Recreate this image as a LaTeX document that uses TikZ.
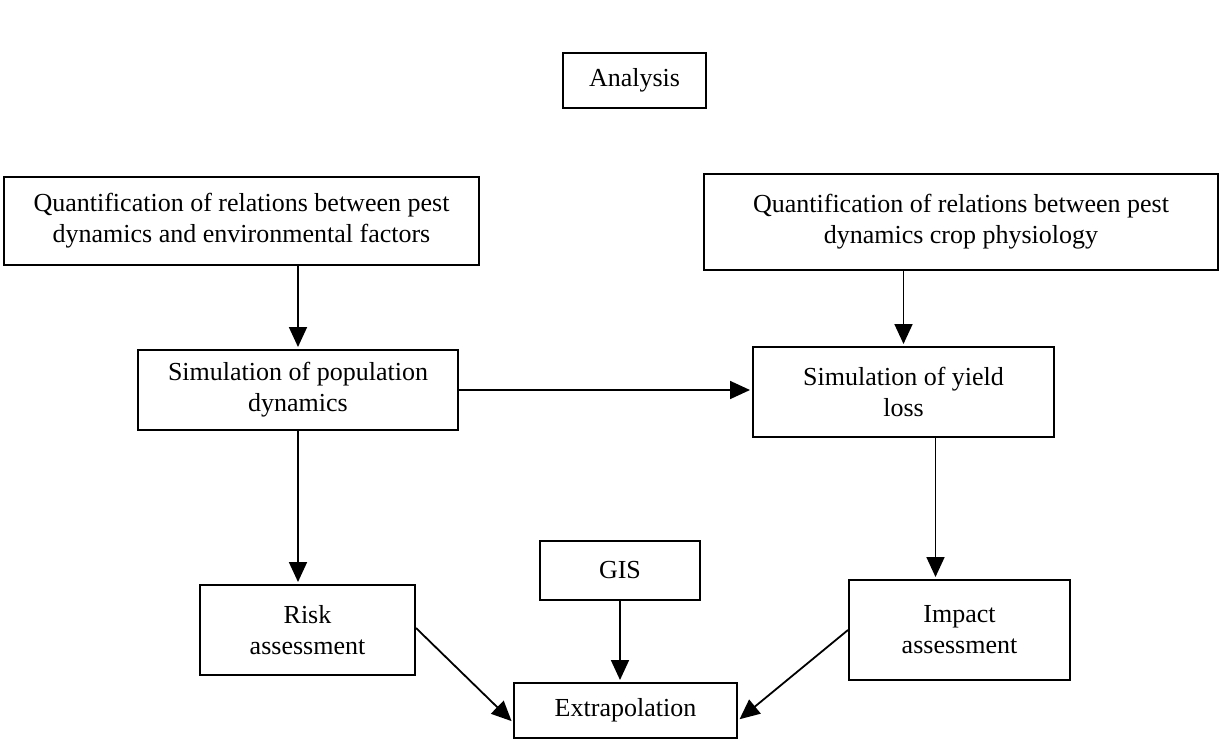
\documentclass[tikz,border=0pt]{standalone}
\usepackage{fontspec}
\setmainfont{Liberation Serif}
\usepackage{tikz}
\usetikzlibrary{arrows.meta, positioning}

\begin{document}
\begin{tikzpicture}[x=0.5pt, y=-0.5pt, shorten >=1pt,
        box/.style={draw, line width=1pt, align=center, inner sep=0pt,
            font=\fontsize{13}{15.5}\selectfont},
        flow/.style={-{Triangle[length=10pt, width=9pt]}, line width=0.9pt}]
        \useasboundingbox (0,0) rectangle (1227,740);

        \node[box, minimum width=143pt/2, minimum height=55pt/2] (analysis) at (634.5,80.5) {Analysis};
        \node[box, minimum width=475pt/2, minimum height=88pt/2] (quantl) at (241.5,221)
            {Quantification of relations between pest\\dynamics and environmental factors};
        \node[box, minimum width=514pt/2, minimum height=96pt/2] (quantr) at (961,222)
            {Quantification of relations between pest\\dynamics crop physiology};
        \node[box, minimum width=320pt/2, minimum height=80pt/2] (simpop) at (298,390)
            {Simulation of population\\dynamics};
        \node[box, minimum width=301pt/2, minimum height=90pt/2] (simyield) at (903.5,392)
            {Simulation of yield\\loss};
        \node[box, minimum width=160pt/2, minimum height=59pt/2] (gis) at (620,570.5) {GIS};
        \node[box, minimum width=215pt/2, minimum height=90pt/2] (risk) at (307.5,630)
            {Risk\\assessment};
        \node[box, minimum width=221pt/2, minimum height=100pt/2] (impact) at (959.5,630)
            {Impact\\assessment};
        \node[box, minimum width=223pt/2, minimum height=55pt/2] (extrap) at (625.5,710.5)
            {Extrapolation};

        \draw[flow] (quantl.south -| simpop.north) -- (simpop.north);
        \draw[flow] (quantr.south -| simyield.north) -- (simyield.north);
        \draw[flow] (simpop.east) -- (simpop.east -| simyield.west);
        \draw[flow] (simpop.south) -- (simpop.south |- risk.north);
        \draw[flow] ([xshift=16pt]simyield.south) -- ([xshift=16pt]simyield.south |- impact.north);
        \draw[flow] (gis.south) -- (gis.south |- extrap.north);
        \draw[flow] ([yshift=1pt]risk.east) -- ([yshift=-6pt]extrap.west);
        \draw[flow] (impact.west) -- ([yshift=-5pt]extrap.east);
\end{tikzpicture}
\end{document}
